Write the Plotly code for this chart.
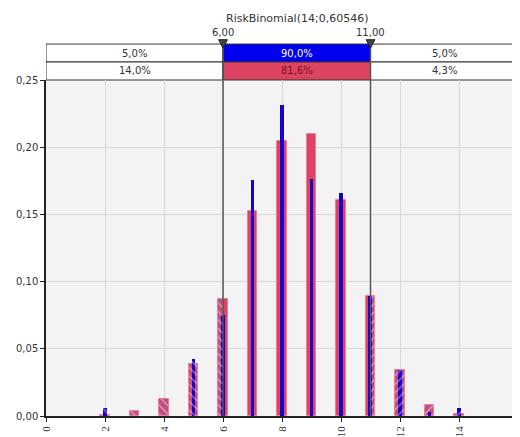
import plotly.graph_objects as go

# ---- data ----
x_vals = [2, 3, 4, 5, 6, 7, 8, 9, 10, 11, 12, 13, 14]
sim_vals = [0.0005, 0.0037, 0.0127, 0.0387, 0.0870, 0.1522, 0.2044, 0.2100, 0.1610, 0.0894, 0.0343, 0.0082, 0.0013]
ref_vals = [0.0057, 0.0, 0.0, 0.0425, 0.0753, 0.1753, 0.2317, 0.1760, 0.1660, 0.0894, 0.0343, 0.0030, 0.0057]
lo_cut, hi_cut = 6.0, 11.0
lo_label, hi_label = "6,00", "11,00"
title_text = "RiskBinomial(14;0,60546)"
row1_texts = ["5,0%", "90,0%", "5,0%"]
row2_texts = ["14,0%", "81,6%", "4,3%"]
x_tickvals = [0, 2, 4, 6, 8, 10, 12, 14, 16]

RED = "#DC4462"
RED_EDGE = "#EE7F9C"
RED_H = "#BE4F7E"
BLUE = "#1800C8"
Y_MAX = 0.25

fig = go.Figure()


def split_bars(xs, ys, half):
    segs = {"left": ([], [], [], []), "mid": ([], [], [], []), "right": ([], [], [], [])}
    for x, y in zip(xs, ys):
        if y <= 0:
            continue
        a, b = x - half, x + half
        parts = [("left", a, min(b, lo_cut)), ("mid", max(a, lo_cut), min(b, hi_cut)),
                 ("right", max(a, hi_cut), b)]
        for key, s, e in parts:
            if e - s > 1e-9:
                X, Y, O, W = segs[key]
                X.append(x); Y.append(y); O.append(s - x); W.append(e - s)
    return segs


def add_series(xs, ys, half, color, hcolor, edge, edgew):
    segs = split_bars(xs, ys, half)
    for key, (X, Y, O, W) in segs.items():
        if not X:
            continue
        marker = dict(color=color if key == "mid" else hcolor,
                      line=dict(color=edge, width=edgew))
        if key != "mid":
            marker["pattern"] = dict(shape="\\" if key == "left" else "/",
                                     fgcolor="white", size=6, solidity=0.2)
        fig.add_trace(go.Bar(x=X, y=Y, offset=O, width=W, marker=marker,
                             showlegend=False, hoverinfo="skip"))


add_series(x_vals, sim_vals, 0.16, RED, RED_H, RED_EDGE, 1)
add_series(x_vals, ref_vals, 0.055, BLUE, BLUE, BLUE, 0)

shapes = []
# probability boxes
y_r1t, y_mid, y_r2b = 1.107, 1.0536, 1.0
bounds = [(0, lo_cut), (lo_cut, hi_cut), (hi_cut, 16.5)]
fills1 = ["white", "#0000EE", "white"]
fills2 = ["white", "#DC4462", "white"]
for (a, b), f1, f2 in zip(bounds, fills1, fills2):
    shapes.append(dict(type="rect", xref="x", yref="paper", x0=a, x1=b, y0=y_mid, y1=y_r1t,
                       fillcolor=f1, line=dict(color="#333333", width=1), layer="below"))
    shapes.append(dict(type="rect", xref="x", yref="paper", x0=a, x1=b, y0=y_r2b, y1=y_mid,
                       fillcolor=f2, line=dict(color="#333333", width=1), layer="below"))

# vertical cutoff lines and triangle markers
for xc in (lo_cut, hi_cut):
    shapes.append(dict(type="line", xref="x", yref="paper", x0=xc, x1=xc, y0=0, y1=1.107,
                       line=dict(color="#555555", width=1.5), layer="above"))
    shapes.append(dict(type="path", xref="x", yref="paper",
                       path=f"M {xc - 0.15} 1.12 L {xc + 0.15} 1.12 L {xc} 1.095 Z",
                       fillcolor="#444444", line=dict(color="#222222", width=1), layer="above"))

annotations = []
txt_font = dict(family="DejaVu Sans", size=10, color="#333333")
for i, ((a, b), t1, t2) in enumerate(zip(bounds, row1_texts, row2_texts)):
    xm = (a + min(b, 16)) / 2
    annotations.append(dict(x=xm, y=(y_r1t + y_mid) / 2, xref="x", yref="paper", text=t1,
                            showarrow=False, yanchor="middle",
                            font=dict(family="DejaVu Sans", size=10,
                                      color="white" if i == 1 else "#333333")))
    annotations.append(dict(x=xm, y=(y_mid + y_r2b) / 2, xref="x", yref="paper", text=t2,
                            showarrow=False, yanchor="middle",
                            font=dict(family="DejaVu Sans", size=10,
                                      color="#7A1020" if i == 1 else "#333333")))

for xc, lab in ((lo_cut, lo_label), (hi_cut, hi_label)):
    annotations.append(dict(x=xc, y=1.142, xref="x", yref="paper", text=lab, showarrow=False,
                            yanchor="middle", font=txt_font))

annotations.append(dict(x=(lo_cut + hi_cut) / 2, y=1.182, xref="x", yref="paper", text=title_text,
                        showarrow=False, yanchor="middle",
                        font=dict(family="DejaVu Sans", size=11, color="#333333")))

fig.update_layout(
    width=520, height=437,
    margin=dict(l=38, r=10, t=72, b=29, autoexpand=False),
    paper_bgcolor="white",
    plot_bgcolor="#F3F3F3",
    barmode="overlay",
    bargap=0,
    separators=",.",
    shapes=shapes,
    annotations=annotations,
    showlegend=False,
)
fig.update_xaxes(range=[0, 16], tickvals=x_tickvals, tickangle=-90, automargin=False,
                 showgrid=True, gridcolor="#D8D8D8", gridwidth=1,
                 showline=True, linecolor="#222222", linewidth=1.5,
                 ticks="outside", ticklen=4, tickcolor="#222222",
                 tickfont=dict(family="Liberation Serif", size=11, color="#333333"),
                 zeroline=False)
fig.update_yaxes(range=[0, Y_MAX], dtick=0.05, tickformat=".2f", automargin=False,
                 showgrid=True, gridcolor="#D8D8D8", gridwidth=1,
                 showline=True, linecolor="#222222", linewidth=1.5,
                 ticks="outside", ticklen=4, tickcolor="#222222",
                 tickfont=dict(family="DejaVu Sans", size=10, color="#333333"),
                 zeroline=False)

fig.write_html("out.html")
